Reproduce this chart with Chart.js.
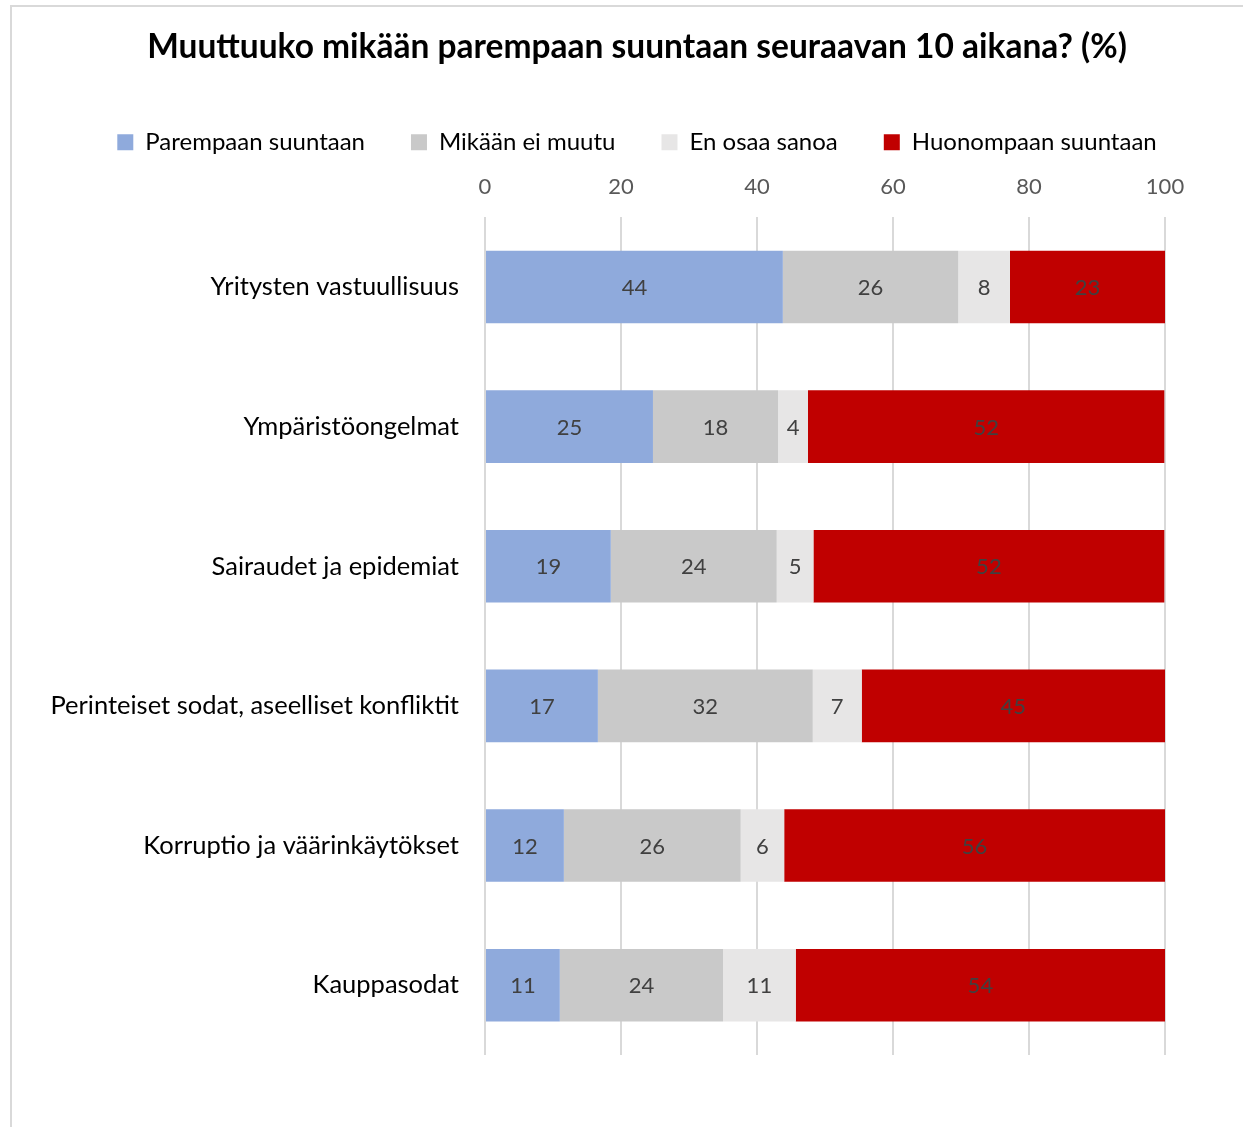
<!DOCTYPE html>
<html>
<head>
<meta charset="utf-8">
<script src="https://cdn.jsdelivr.net/npm/chart.js@4.4.1/dist/chart.umd.min.js"></script>
<style>
  html, body { margin: 0; padding: 0; background: #fff; }
  #wrap { position: relative; width: 1243px; height: 1127px; overflow: hidden; }
  #frame { position: absolute; left: 10px; top: 5px; right: -5px; bottom: -5px;
           border-left: 2px solid #d9d9d9; border-top: 2px solid #d9d9d9; }
  #mycanvas { position: absolute; left: 0; top: 0; }
</style>
</head>
<body>
<div id="wrap">
  <div id="frame"></div>
  <canvas id="mycanvas" width="1243" height="1127"></canvas>
</div>
<script>
var categories = ["Yritysten vastuullisuus", "Ympäristöongelmat", "Sairaudet ja epidemiat",
  "Perinteiset sodat, aseelliset konfliktit", "Korruptio ja väärinkäytökset", "Kauppasodat"];
var seriesNames = ["Parempaan suuntaan", "Mikään ei muutu", "En osaa sanoa", "Huonompaan suuntaan"];
var parempaan = [43.8, 24.7, 18.5, 16.6, 11.6, 11.0];
var eiMuutu   = [25.8, 18.4, 24.4, 31.6, 26.0, 24.0];
var enOsaa    = [7.6, 4.4, 5.4, 7.2, 6.4, 10.7];
var huonompaan = [22.8, 52.4, 51.6, 44.6, 56.0, 54.3];
var xTicks = [0, 20, 40, 60, 80, 100];
var colors = ["#8faadc", "#c9c9c9", "#e7e6e6", "#c00000"];

var fontFam = "Lato, 'Open Sans', sans-serif";

// numbers inside the bars
var valueLabels = {
  id: 'valueLabels',
  afterDatasetsDraw: function(chart) {
    var ctx = chart.ctx;
    ctx.save();
    ctx.font = "22px " + fontFam;
    ctx.fillStyle = "#404040";
    ctx.textAlign = "center";
    ctx.textBaseline = "middle";
    chart.data.datasets.forEach(function(ds, i) {
      var meta = chart.getDatasetMeta(i);
      meta.data.forEach(function(bar, j) {
        var mid = (bar.x + bar.base) / 2;
        ctx.fillText(Math.round(ds.data[j]), mid, bar.y + 1);
      });
    });
    ctx.restore();
  }
};

var chartdata = {
  labels: categories,
  datasets: [
    { label: seriesNames[0], data: parempaan, backgroundColor: colors[0] },
    { label: seriesNames[1], data: eiMuutu, backgroundColor: colors[1] },
    { label: seriesNames[2], data: enOsaa, backgroundColor: colors[2] },
    { label: seriesNames[3], data: huonompaan, backgroundColor: colors[3] }
  ]
};
chartdata.datasets.forEach(function(d) {
  d.barPercentage = 0.52;
  d.categoryPercentage = 1.0;
  d.borderWidth = 0;
});

var ctx = document.getElementById("mycanvas");
var barGraph = new Chart(ctx, {
  type: 'bar',
  data: chartdata,
  options: {
    indexAxis: 'y',
    responsive: false,
    animation: false,
    layout: { padding: { left: 31, right: 0, top: 0, bottom: 72 } },
    scales: {
      x: {
        position: 'top',
        stacked: true,
        min: 0, max: 100,
        afterBuildTicks: function(scale) {
          scale.ticks = xTicks.map(function(v) { return { value: v }; });
        },
        afterFit: function(scale) { scale.height = 53; },
        grid: { color: "#d9d9d9", lineWidth: 2, drawTicks: false },
        border: { display: false },
        ticks: { color: "#595959", padding: 17, font: { family: fontFam, size: 22 } }
      },
      y: {
        stacked: true,
        grid: { display: false, drawTicks: false },
        border: { display: false },
        afterFit: function(scale) { scale.width = 454; },
        ticks: { color: "#000", padding: 26, font: { family: fontFam, size: 25.5 } }
      },
      // empty axis on the right, only keeps room free
      yRight: {
        type: 'category',
        position: 'right',
        grid: { display: false, drawTicks: false },
        border: { display: false },
        ticks: { display: false },
        afterFit: function(scale) { scale.width = 78; }
      }
    },
    plugins: {
      title: {
        display: true,
        text: "Muuttuuko mikään parempaan suuntaan seuraavan 10 aikana? (%)",
        color: "#000",
        font: { family: fontFam, size: 33.5, weight: 'bold' },
        padding: { top: 27, bottom: 17 }
      },
      legend: {
        position: 'top',
        labels: {
          color: "#000",
          boxWidth: 16, boxHeight: 16,
          padding: 46,
          font: { family: fontFam, size: 24 }
        }
      },
      tooltip: { enabled: false }
    }
  },
  plugins: [valueLabels]
});
</script>
</body>
</html>
